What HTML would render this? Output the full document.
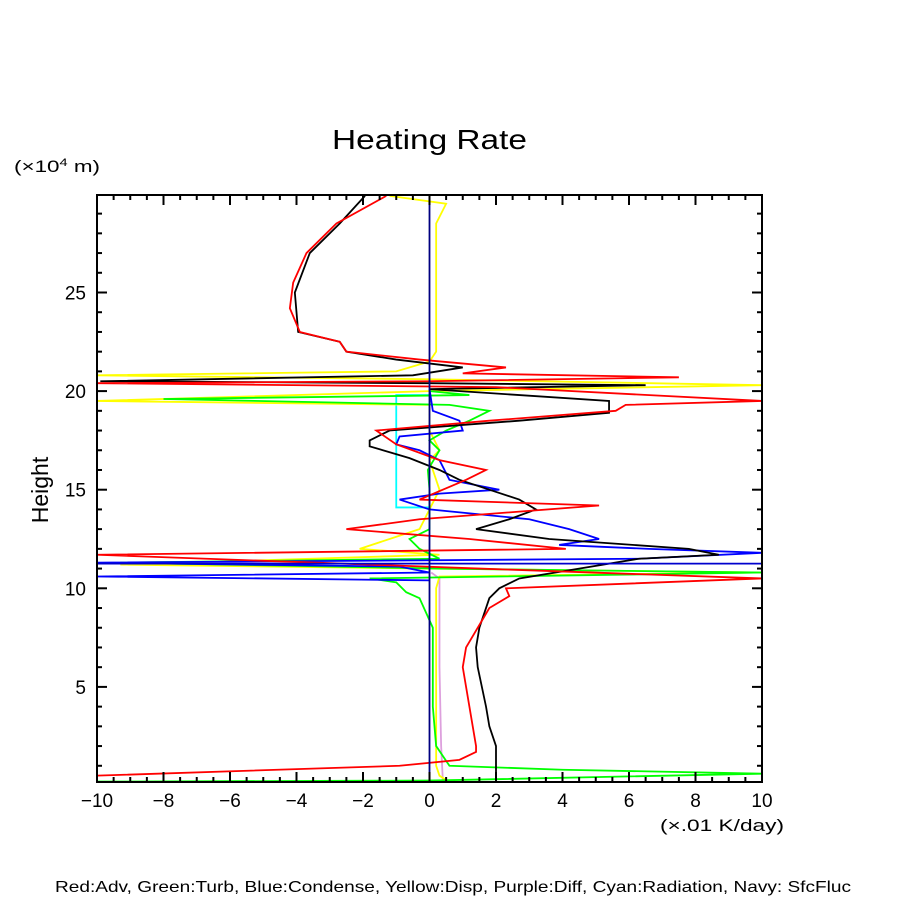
<!DOCTYPE html>
<html><head><meta charset="utf-8"><style>
body{margin:0;background:#fff}
svg text{font-family:"Liberation Sans",sans-serif;fill:#000}
</style></head><body>
<svg id="c" width="904" height="904" viewBox="0 0 904 904">
<text x="332" y="149" font-size="28" textLength="195" lengthAdjust="spacingAndGlyphs">Heating Rate</text>
<text x="14" y="172" font-size="17" textLength="86" lengthAdjust="spacingAndGlyphs">(×10<tspan font-size="11" dy="-6">4</tspan><tspan dy="6"> m)</tspan></text>
<text x="48" y="490" font-size="23" text-anchor="middle" transform="rotate(-90 48 490)">Height</text>
<text x="660" y="831" font-size="17" textLength="124" lengthAdjust="spacingAndGlyphs">(×.01 K/day)</text>
<text x="55" y="892" font-size="16" textLength="796" lengthAdjust="spacingAndGlyphs">Red:Adv, Green:Turb, Blue:Condense, Yellow:Disp, Purple:Diff, Cyan:Radiation, Navy: SfcFluc</text>
<defs><clipPath id="pc"><rect x="97" y="195" width="665" height="587"/></clipPath></defs>
<g id="series" clip-path="url(#pc)"></g>
<g id="axes"></g>
<rect x="97" y="195" width="665" height="587" fill="none" stroke="#000" stroke-width="2"/>
</svg>
<script>
const xTicks=[-10,-8,-6,-4,-2,0,2,4,6,8,10];
const yTicks=[5,10,15,20,25];
const black=[[-1.94,29.9],[-2.7,28.5],[-3.6,27],[-4.05,25],[-3.95,23],[-2.7,22.5],[-2.5,22],[-1,21.6],[1,21.2],[-0.5,20.8],[-9.9,20.5],[0,20.4],[6.5,20.3],[0,20.1],[5.4,19.5],[5.4,18.9],[2.7,18.5],[-1.2,18],[-1.8,17.5],[-1.8,17.2],[-0.6,16.6],[0.3,16],[0.9,15.5],[1.8,15],[2.7,14.5],[3.2,14],[2.4,13.5],[1.4,13],[3.6,12.5],[7.8,12],[8.7,11.7],[6.3,11.5],[4.5,11],[2.7,10.5],[2.1,10],[1.8,9.5],[1.5,8],[1.4,7],[1.45,6],[1.7,4],[1.8,3],[2.0,2],[2.0,1],[2.0,0.3]];
const red=[[-1.3,29.9],[-2.8,28.5],[-3.7,27],[-4.1,25.5],[-4.2,24.2],[-3.9,23],[-2.7,22.5],[-2.5,22],[-0.3,21.6],[2.3,21.2],[1,20.9],[7.5,20.7],[0,20.5],[-10,20.4],[2,20.2],[10,19.5],[5.9,19.3],[5.6,19],[1.8,18.5],[-1.6,18],[-1,17.3],[0.3,16.5],[1.7,16],[1.1,15.5],[-0.3,14.5],[5.1,14.2],[-0.3,13.5],[-2.5,13],[1.2,12.5],[4.1,12],[-10,11.7],[1.5,11],[10,10.5],[2.3,10],[2.4,9.6],[1.8,9],[1.1,7],[1,6],[1.2,4],[1.4,2],[1.4,1.7],[0.9,1.3],[-0.9,1],[-10,0.5]];
const green=[[-10,0.2],[0,0.25],[10,0.6],[4,0.8],[0.6,1],[0.2,2],[0.1,4],[0.1,8],[-0.3,9.5],[-0.7,9.8],[-1,10.3],[-1.8,10.5],[10,10.8],[0.3,11],[-9.3,11.3],[0.3,11.5],[-0.3,12],[-0.6,12.5],[0,13],[0,14],[0,15],[-0.05,16],[0.3,17],[0,17.5],[0.5,18],[1.2,18.5],[1.8,19],[0.6,19.3],[-8,19.6],[1.2,19.8],[0,20]];
const blue=[[0,20.1],[0.1,19],[0.9,18.5],[1,18],[-0.9,17.7],[-1,17.3],[-0.3,17],[0.3,16.5],[0.6,15.5],[2.1,15],[0.3,14.8],[-0.9,14.5],[0,14],[3,13.5],[4.2,13],[5.1,12.5],[3.9,12.2],[6.6,12],[10,11.8],[6.3,11.5],[-10,11.3],[-0.9,11.1],[0,10.8],[-10,10.6],[0,10.4]];
const yellow=[[-1.2,29.9],[0.5,29.5],[0.2,28.5],[0.2,25],[0.2,22],[0,21.5],[-1,21],[-10,20.8],[0,20.6],[10,20.3],[0,20],[-10,19.5],[0,19.3],[0,18],[0.3,17],[0,16.5],[0.3,15],[0,14],[-0.3,13],[-2.1,12],[0.3,11.7],[-9.3,11.2],[0,11],[10,10.8],[0.3,10.6],[0.2,10],[0.2,1],[0.3,0.5],[0.6,0.15]];
const cyan=[[0,19.8],[-1,19.8],[-1,14.1],[0,14.1]];
const purple=[[0.05,10.8],[0.3,10.5],[0.3,6],[0.35,2],[0.4,0.3]];
const navyV=[[0,0],[0,30]];
const navyH=[[-10,11.25],[10,11.25]];
const sx=x=>429.5+33.25*x, sy=y=>785.5-19.72*y;
const NS="http://www.w3.org/2000/svg";
const sg=document.getElementById('series'), ag=document.getElementById('axes');
function line(g,x1,y1,x2,y2,name){const l=document.createElementNS(NS,'line');l.setAttribute('x1',x1);l.setAttribute('y1',y1);l.setAttribute('x2',x2);l.setAttribute('y2',y2);l.setAttribute('stroke','#000');l.setAttribute('stroke-width','2');


g.appendChild(l);}
function txt(x,y,s,anchor,name){const t=document.createElementNS(NS,'text');t.setAttribute('x',x);t.setAttribute('y',y);t.setAttribute('font-size','19');t.setAttribute('text-anchor',anchor);t.textContent=s;


ag.appendChild(t);}
for(let v=-10;v<=10;v+=0.5){const X=sx(v),maj=xTicks.includes(v),L=maj?10:5;line(ag,X,782,X,782-L,'x-tick');line(ag,X,195,X,195+L,'x-tick-top');}
xTicks.forEach(v=>txt(sx(v),807,(v<0?'\u2212'+(-v):''+v),'middle','x-tick-label'));
for(let v=1;v<=29;v++){const Y=sy(v),maj=yTicks.includes(v),L=maj?10:5;line(ag,97,Y,97+L,Y,'y-tick');line(ag,762,Y,762-L,Y,'y-tick-right');}
yTicks.forEach(v=>txt(86,sy(v)+7,''+v,'end','y-tick-label'));
function poly(d,c,name){const p=document.createElementNS(NS,'polyline');p.setAttribute('points',d.map(q=>sx(q[0])+','+sy(q[1])).join(' '));p.setAttribute('fill','none');p.setAttribute('stroke',c);p.setAttribute('stroke-width','1.8');


sg.appendChild(p);}
poly(purple,'#dda0dd','diff-line');
poly(cyan,'#00ffff','radiation-line');
poly(yellow,'#ffff00','disp-line');
poly(green,'#00ff00','turb-line');
poly(blue,'#0000ff','condense-line');
poly(black,'#000000','total-line');
poly(red,'#ff0000','adv-line');
poly(navyH,'#0000cd','sfcfluc-horizontal-line');
poly(navyV,'#000080','sfcfluc-line');
</script>
</body></html>
